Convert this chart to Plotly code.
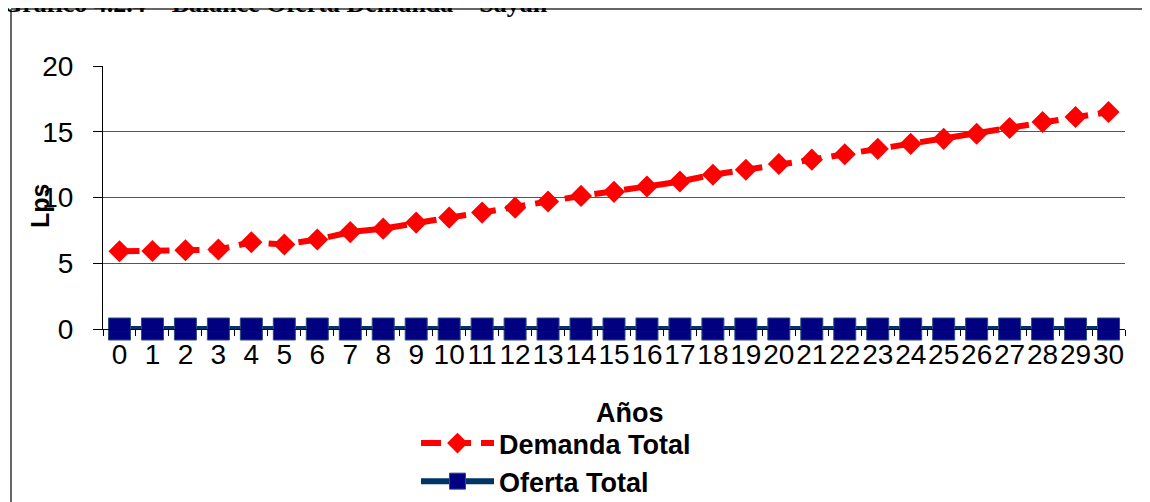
import plotly.graph_objects as go

years = [str(i) for i in range(31)]
demanda_total = [5.91, 5.93, 5.99, 6.04, 6.60, 6.43, 6.81, 7.37, 7.63, 8.09,
                 8.47, 8.85, 9.23, 9.70, 10.12, 10.43, 10.84, 11.22, 11.73, 12.11,
                 12.55, 12.88, 13.29, 13.70, 14.08, 14.46, 14.85, 15.28, 15.74, 16.12,
                 16.50]
oferta_total = [0, 0, 0, 0, 0, 0, 0, 0, 0, 0, 0, 0, 0, 0, 0, 0, 0, 0, 0, 0,
                0, 0, 0, 0, 0, 0, 0, 0, 0, 0, 0]
y_ticks = [0, 5, 10, 15, 20]

W, H = 1150, 502
OFF = 8  # page body margin offset
L, R, T, B = 103 - OFF, 1125 - OFF, 66 - OFF, 329 - OFF  # plot area in figure pixels


def px(x):
    x = x - OFF
    return (x - L) / (R - L)


def py(y):
    y = y - OFF
    return (B - y) / (B - T)


fig = go.Figure()
fig.add_trace(go.Scatter(
    x=years, y=demanda_total, name="Demanda Total", mode="lines+markers",
    line=dict(color="#FF0000", width=6, dash="20px,10px"),
    marker=dict(symbol="diamond", size=17, color="#FF0000"),
    cliponaxis=False,
))
fig.add_trace(go.Scatter(
    x=years, y=oferta_total, name="Oferta Total", mode="lines+markers",
    line=dict(color="#003366", width=6),
    marker=dict(symbol="square", size=22, color="#000080",
                line=dict(color="#2A4F80", width=1)),
    cliponaxis=False,
))

fig.update_layout(
    width=W, height=H,
    margin=dict(l=L, r=W - R, t=T, b=H - B, pad=0, autoexpand=False),
    paper_bgcolor="white", plot_bgcolor="white",
    font=dict(family="Liberation Sans, Arial", color="black"),
    showlegend=True,
    legend=dict(
        x=px(416), y=py(419), xanchor="left", yanchor="top",
        orientation="v", font=dict(size=27, family="Liberation Sans, Arial", color="black", weight="bold"),
        itemwidth=73, bgcolor="rgba(0,0,0,0)", tracegroupgap=0,
    ),
    xaxis=dict(
        type="category", tickmode="array", tickvals=years, ticktext=years,
        tickangle=0, tickfont=dict(size=28, color="black"),
        showline=True, linecolor="black", linewidth=1,
        ticks="outside", ticklen=6, tickcolor="black", tickson="boundaries",
        showgrid=False, range=[-0.5, 30.5],
    ),
    yaxis=dict(
        range=[0, 20], tickvals=y_ticks, tickfont=dict(size=28, color="black"),
        showline=True, linecolor="black", linewidth=1,
        ticks="outside", ticklen=9, tickcolor="black",
        showgrid=True, gridcolor="#555555", gridwidth=1,
        zeroline=False, ticklabelstandoff=14,
    ),
)

annotations = [
    dict(text="<b>Años</b>", x=px(630), y=py(413), xref="paper", yref="paper",
         showarrow=False, font=dict(size=27, color="black"),
         xanchor="center", yanchor="middle"),
    dict(text="<b>Lps</b>", x=px(40), y=py(206), xref="paper", yref="paper",
         showarrow=False, textangle=-90, font=dict(size=25, color="black"),
         xanchor="center", yanchor="middle"),
    dict(text="<b>Gráfico 4.2.4 – Balance Oferta Demanda – Sayán</b>",
         x=px(0), y=py(20), xref="paper", yref="paper", showarrow=False,
         font=dict(size=26, color="black", family="Liberation Serif, Times New Roman"),
         xanchor="left", yanchor="bottom"),
]
fig.update_layout(annotations=annotations)

fig.add_shape(type="line", xref="paper", yref="paper",
              x0=px(11), x1=px(11), y0=py(9), y1=py(530),
              line=dict(color="#666666", width=2))
fig.add_shape(type="line", xref="paper", yref="paper",
              x0=px(11), x1=px(1170), y0=py(9), y1=py(9),
              line=dict(color="#666666", width=2))

fig.write_html("out.html")
